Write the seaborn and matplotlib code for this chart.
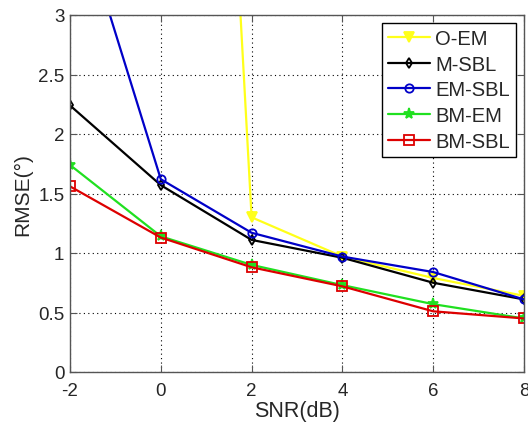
import matplotlib
matplotlib.use("Agg")
import matplotlib.pyplot as plt
import seaborn as sns
import pandas as pd

snr = [-2, 0, 2, 4, 6, 8]
o_em = [30.0, 15.2, 1.30, 0.97, 0.79, 0.64]
m_sbl = [2.24, 1.57, 1.11, 0.96, 0.75, 0.61]
em_sbl = [4.08, 1.62, 1.17, 0.97, 0.84, 0.61]
bm_em = [1.74, 1.14, 0.90, 0.73, 0.57, 0.45]
bm_sbl = [1.56, 1.13, 0.88, 0.72, 0.51, 0.45]

names = ["O-EM", "M-SBL", "EM-SBL", "BM-EM", "BM-SBL"]
series = [o_em, m_sbl, em_sbl, bm_em, bm_sbl]
colors = ["#ffff1a", "#000000", "#0000c8", "#20e020", "#dd0000"]
markers = ["v", "d", "o", "*", "s"]
face = ["#ffff1a", "none", "none", "#20e020", "none"]
msizes = [7, 5, 6, 8, 7]

sns.set_style("white")
plt.rcParams["font.family"] = ["Liberation Sans", "DejaVu Sans"]
plt.rcParams["axes.unicode_minus"] = False

fig = plt.figure(figsize=(5.28, 4.27), dpi=100)
ax = fig.add_axes([70 / 528, 1 - 373 / 427, 454 / 528, 357 / 427])

for name, vals, c, m, fc, ms in zip(names, series, colors, markers, face, msizes):
    df = pd.DataFrame({"SNR": snr, "RMSE": vals})
    sns.lineplot(data=df, x="SNR", y="RMSE", ax=ax, color=c, marker=m,
                 markersize=ms, markerfacecolor=fc, markeredgecolor=c,
                 markeredgewidth=1.3, linewidth=1.6, label=name)

ax.set_xlim(-2, 8)
ax.set_ylim(0, 3)
ax.set_xticks(snr)
ax.set_xticklabels([str(v) for v in snr])
ax.set_yticks([0, 0.5, 1, 1.5, 2, 2.5, 3])
ax.set_yticklabels(["0", "0.5", "1", "1.5", "2", "2.5", "3"])
ax.grid(True, linestyle=(0, (1, 3)), color="black", linewidth=0.8)
ax.tick_params(direction="in", length=5, labelsize=13.5, top=True, right=True,
               bottom=True, left=True, color="#555555")
ax.tick_params(axis="x", pad=7)
ax.tick_params(axis="y", pad=4)
for s in ax.spines.values():
    s.set_color("#555555")
    s.set_linewidth(1.0)
ax.set_xlabel("SNR(dB)", fontsize=15.5, labelpad=1)
ax.set_ylabel("RMSE(°)", fontsize=15, labelpad=4)

leg = ax.legend(loc="upper right", fontsize=14.5, frameon=True, fancybox=False,
                edgecolor="black", framealpha=1, borderaxespad=0.4,
                handlelength=2.1, handletextpad=0.25, labelspacing=0.33,
                borderpad=0.3)
leg.get_frame().set_linewidth(1.0)

fig.savefig("out.png", dpi=100)
